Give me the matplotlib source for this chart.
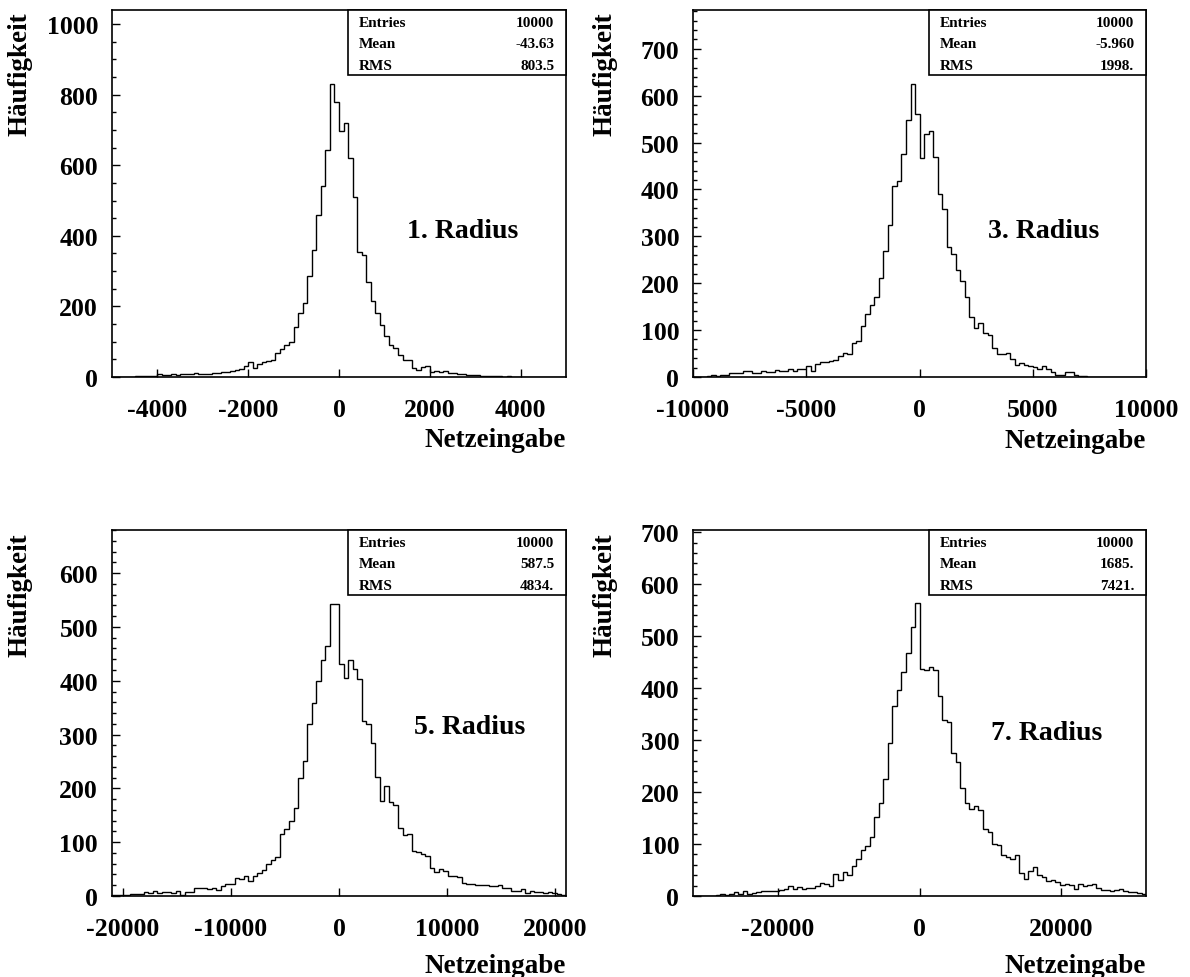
import numpy as np
import matplotlib
matplotlib.use("Agg")
import matplotlib.pyplot as plt
from matplotlib.patches import Rectangle
from matplotlib.ticker import MultipleLocator, FixedLocator

plt.rcParams['font.family'] = ['Liberation Serif', 'DejaVu Serif']
plt.rcParams['font.weight'] = 'bold'

# bin contents (100 bins each)
radius1 = [0, 0, 1, 1, 1, 2, 2, 3, 2, 4, 8, 7, 6, 9, 6, 8, 9, 9, 10, 8,
           9, 9, 10, 11, 13, 14, 17, 19, 22, 30, 43, 26, 36, 42, 46, 49, 68, 79, 92, 100,
           142, 182, 211, 285, 359, 459, 541, 644, 831, 780, 696, 720, 621, 511, 355, 347, 268, 216, 180, 148,
           117, 92, 81, 63, 47, 47, 25, 20, 28, 32, 14, 17, 13, 18, 10, 10, 9, 9, 7, 5,
           5, 3, 4, 2, 3, 2, 1, 2, 1, 1, 1, 0, 1, 0, 0, 0, 0, 0, 0, 0]
radius3 = [0, 1, 1, 2, 5, 2, 4, 4, 8, 8, 9, 13, 12, 8, 9, 12, 11, 11, 15, 13,
           12, 16, 13, 16, 18, 23, 13, 28, 32, 33, 35, 37, 45, 52, 50, 73, 77, 109, 134, 153,
           170, 211, 269, 325, 407, 418, 475, 548, 625, 560, 468, 519, 525, 470, 391, 358, 277, 262, 228, 204,
           170, 127, 104, 116, 94, 89, 61, 50, 50, 51, 38, 26, 30, 26, 23, 21, 18, 23, 16, 11,
           5, 5, 11, 10, 4, 3, 2, 1, 1, 1, 1, 0, 0, 0, 0, 0, 0, 0, 0, 0]
radius5 = [1, 1, 2, 2, 3, 4, 4, 7, 6, 9, 6, 8, 8, 6, 9, 2, 7, 8, 15, 15,
           14, 13, 14, 11, 19, 22, 23, 33, 31, 37, 28, 37, 43, 49, 59, 67, 73, 115, 124, 140,
           164, 219, 250, 319, 359, 400, 438, 465, 542, 543, 432, 405, 438, 422, 404, 326, 319, 285, 222, 177,
           205, 175, 170, 127, 113, 115, 84, 81, 79, 74, 52, 45, 51, 47, 37, 37, 36, 25, 22, 22,
           21, 21, 21, 19, 19, 20, 15, 15, 10, 9, 13, 6, 9, 7, 8, 6, 7, 6, 4, 2]
radius7 = [0, 0, 1, 1, 1, 2, 3, 2, 4, 8, 4, 9, 3, 6, 8, 9, 9, 10, 10, 12,
           14, 19, 13, 17, 13, 16, 15, 20, 26, 24, 20, 43, 31, 46, 40, 57, 71, 88, 97, 114,
           152, 179, 225, 294, 366, 396, 430, 468, 518, 563, 436, 435, 441, 435, 385, 338, 334, 276, 257, 207,
           179, 167, 174, 166, 128, 124, 100, 99, 78, 75, 71, 79, 45, 32, 49, 55, 40, 36, 28, 31,
           27, 22, 24, 22, 14, 24, 19, 22, 23, 16, 11, 12, 9, 11, 13, 10, 7, 7, 6, 4]

titles = ["1. Radius", "3. Radius", "5. Radius", "7. Radius"]
x_ranges = [(-5000, 5000), (-10000, 10000), (-21000, 21000), (-32000, 32000)]
x_tick_values = [[-4000, -2000, 0, 2000, 4000],
                 [-10000, -5000, 0, 5000, 10000],
                 [-20000, -10000, 0, 10000, 20000],
                 [-20000, 0, 20000]]
y_max = [1040, 783, 680, 704]
y_major = [200, 100, 100, 100]
y_minor = [50, 20, 20, 20]
entries = ["10000", "10000", "10000", "10000"]
means = ["-43.63", "-5.960", "587.5", "1685."]
rms = ["803.5", "1998.", "4834.", "7421."]

counts = [radius1, radius3, radius5, radius7]

fig = plt.figure(figsize=(11.9, 9.78), dpi=100, facecolor='white')

rects = [[0.0941, 0.6135, 0.3815, 0.3753],
         [0.5824, 0.6135, 0.3807, 0.3753],
         [0.0941, 0.0828, 0.3815, 0.3742],
         [0.5824, 0.0828, 0.3807, 0.3742]]
title_pos = [(0.650, 0.400), (0.651, 0.398), (0.665, 0.462), (0.658, 0.448)]
ylabel_x = [-0.2026, -0.194, -0.2026, -0.194]
xlabel_y = [-0.188, -0.19, -0.207, -0.207]

for i in range(4):
    ax = fig.add_axes(rects[i])
    lo, hi = x_ranges[i]
    edges = np.linspace(lo, hi, len(counts[i]) + 1)
    ax.stairs(counts[i], edges, color='black', linewidth=1.0)
    ax.set_xlim(lo, hi)
    ax.set_ylim(0, y_max[i])

    for s in ax.spines.values():
        s.set_linewidth(1.2)

    ax.xaxis.set_major_locator(FixedLocator(x_tick_values[i]))
    ax.set_xticklabels([str(v) for v in x_tick_values[i]])
    ax.yaxis.set_major_locator(MultipleLocator(y_major[i]))
    ax.yaxis.set_minor_locator(MultipleLocator(y_minor[i]))
    ax.tick_params(axis='x', direction='in', length=6, width=1.0, pad=15,
                   labelsize=18.5, top=False)
    ax.tick_params(axis='y', which='major', direction='in', length=6, width=1.0,
                   pad=10, labelsize=18.5, right=False)
    ax.tick_params(axis='y', which='minor', direction='in', length=3, width=1.0,
                   right=False)
    for lab in ax.get_xticklabels() + ax.get_yticklabels():
        lab.set_fontweight('bold')

    # axis titles
    ax.text(1.0, xlabel_y[i], "Netzeingabe", transform=ax.transAxes, ha='right',
            va='baseline', fontsize=19.5, fontweight='bold')
    ax.text(ylabel_x[i], 0.995, "Häufigkeit", transform=ax.transAxes, ha='center',
            va='top', rotation=90, fontsize=19.5, fontweight='bold')

    # stats box
    ax.add_patch(Rectangle((0.52, 0.823), 0.48, 0.177, transform=ax.transAxes,
                           facecolor='white', edgecolor='black', linewidth=1.2,
                           zorder=5, clip_on=False))
    rows = [("Entries", entries[i]), ("Mean", means[i]), ("RMS", rms[i])]
    for k, (name, val) in enumerate(rows):
        yy = 0.967 - k * 0.059
        ax.text(0.544, yy, name, transform=ax.transAxes, ha='left', va='center',
                fontsize=11, fontweight='bold', zorder=6)
        ax.text(0.974, yy, val, transform=ax.transAxes, ha='right', va='center',
                fontsize=11, fontweight='bold', zorder=6)

    ax.text(title_pos[i][0], title_pos[i][1], titles[i], transform=ax.transAxes,
            ha='left', va='center', fontsize=20, fontweight='bold')

fig.savefig("out.png", dpi=100, facecolor='white')
